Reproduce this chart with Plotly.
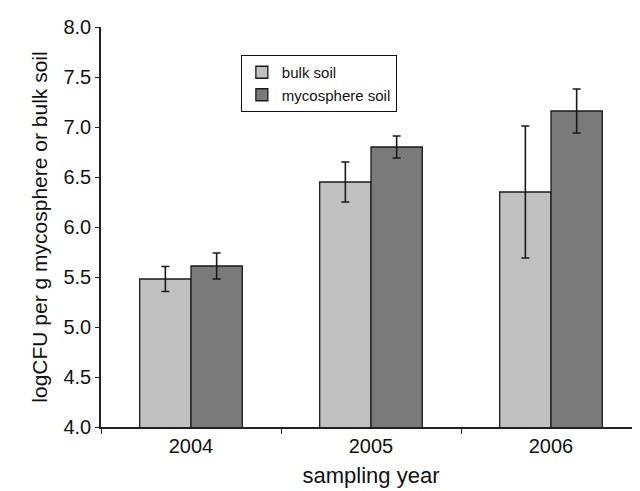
import plotly.graph_objects as go

years = ["2004", "2005", "2006"]
bulk = [5.48, 6.45, 6.35]
bulk_err = [0.125, 0.20, 0.66]
myco = [5.61, 6.80, 7.16]
myco_err = [0.13, 0.11, 0.22]

font = "Liberation Sans, Arial, sans-serif"

fig = go.Figure()
fig.add_trace(go.Bar(
    x=years, y=bulk, name="bulk soil",
    marker=dict(color="#c0c0c0", line=dict(color="#1a1a1a", width=1.3)),
    error_y=dict(type="data", array=bulk_err, color="#1a1a1a", thickness=1.6, width=4),
))
fig.add_trace(go.Bar(
    x=years, y=myco, name="mycosphere soil",
    marker=dict(color="#7a7a7a", line=dict(color="#1a1a1a", width=1.3)),
    error_y=dict(type="data", array=myco_err, color="#1a1a1a", thickness=1.6, width=4),
))

fig.update_layout(
    width=640, height=491,
    margin=dict(l=93, r=7, t=19, b=72),
    paper_bgcolor="white", plot_bgcolor="white",
    barmode="group", bargap=0.43, bargroupgap=0,
    font=dict(family=font, size=20, color="#111111"),
    showlegend=True,
    legend=dict(
        x=0.259, y=0.93, xanchor="left", yanchor="top",
        bgcolor="white", bordercolor="#111111", borderwidth=1,
        font=dict(size=15, family=font, color="#111111"),
        itemwidth=30, tracegroupgap=0,
    ),
    xaxis=dict(
        type="category", tickson="boundaries", ticks="outside", ticklen=5,
        tickcolor="#222222", showline=True, linecolor="#222222", linewidth=1.5,
        showgrid=False, tickfont=dict(size=20),
        title=dict(text="sampling year", font=dict(size=22), standoff=12),
    ),
    yaxis=dict(
        range=[4, 8], dtick=0.5, tick0=4, tickformat=".1f",
        ticks="outside", ticklen=4, tickcolor="#222222",
        showline=True, linecolor="#222222", linewidth=1.5,
        showgrid=False, zeroline=False, tickfont=dict(size=20),
        title=dict(text="logCFU per g mycosphere or bulk soil", font=dict(size=21), standoff=10),
    ),
)

fig.write_html("out.html")
